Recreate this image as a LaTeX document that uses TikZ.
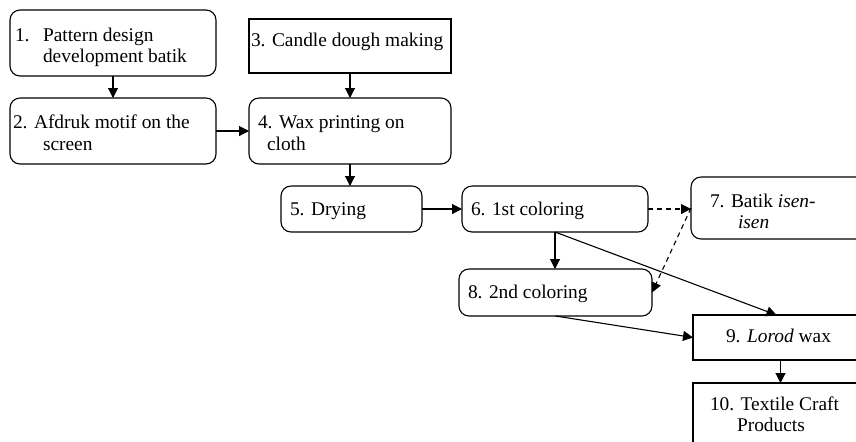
\documentclass[tikz,border=0pt]{standalone}
\usepackage{fontspec}
\setmainfont{Liberation Serif}
\usetikzlibrary{arrows.meta}
\begin{document}
\begin{tikzpicture}[x=0.5pt,y=-0.5pt,
  every node/.style={inner sep=0pt, outer sep=0pt},
  rbox/.style={draw, line width=0.55pt, rounded corners=5pt, anchor=north west},
  sbox/.style={draw, line width=0.55pt, anchor=north west},
  txt/.style={anchor=base west, font=\fontsize{9.7}{11}\selectfont},
  conn/.style={line width=0.55pt, -{Triangle[length=5pt,width=5pt]}},
  dconn/.style={conn, dash pattern=on 2.5pt off 2pt}]
\clip (0,0) rectangle (856,441);
% boxes
\node[rbox, minimum width=103pt, minimum height=33pt] (b1) at (10,10) {};
\node[rbox, minimum width=103pt, minimum height=33pt] (b2) at (10,98) {};
\node[sbox, minimum width=101pt, minimum height=27pt] (b3) at (249,19) {};
\node[rbox, minimum width=101pt, minimum height=33pt] (b4) at (249,98) {};
\node[rbox, minimum width=70.5pt, minimum height=23pt] (b5) at (281,186) {};
\node[rbox, minimum width=93pt, minimum height=23pt] (b6) at (462,186) {};
\node[rbox, minimum width=95pt, minimum height=31pt] (b7) at (691,177) {};
\node[rbox, minimum width=96.5pt, minimum height=23.5pt] (b8) at (459,269) {};
\node[sbox, minimum width=95pt, minimum height=22.5pt] (b9) at (693,315) {};
\node[sbox, minimum width=95pt, minimum height=45pt] (b10) at (693,383) {};
% texts
\node[txt] (t1a) at (15,41) {1.};
\node[txt] (t1b) at (43,41) {Pattern design};
\node[txt] (t1c) at (43,62) {development batik};
\node[txt] (t2a) at (13,128) {2. Afdruk motif on the};
\node[txt] (t2b) at (43,150) {screen};
\node[txt] (t3) at (251,46) {3. Candle dough making};
\node[txt] (t4a) at (258,128) {4. Wax printing on};
\node[txt] (t4b) at (267,150) {cloth};
\node[txt] (t5) at (290,215) {5. Drying};
\node[txt] (t6) at (471,215) {6. 1st coloring};
\node[txt] (t7a) at (710,207) {7. Batik \textit{isen-}};
\node[txt] (t7b) at (738,228) {\textit{isen}};
\node[txt] (t8) at (468,298) {8. 2nd coloring};
\node[txt] (t9) at (726,342) {9. \textit{Lorod} wax};
\node[txt] (t10a) at (710,410) {10. Textile Craft};
\node[txt] (t10b) at (737,431) {Products};
% connectors
\draw[conn] (b1.south) -- (b2.north);
\draw[conn] (b3.south) -- (b4.north);
\draw[conn] (b2.east) -- (b4.west);
\draw[conn] (b4.south) -- (b4.south |- b5.north);
\draw[conn] (b5.east) -- (b6.west);
\draw[conn] (b6.south) -- (b6.south |- b8.north);
\draw[dconn] (b6.east) -- (b6.east -| b7.west);
\draw[dconn] (b7.west) -- (b8.east);
\draw[conn] (b6.south) -- ([xshift=-5.75pt]b9.north);
\draw[conn] (b8.south) -- (b9.west);
\draw[conn] ([xshift=-3.75pt]b9.south) -- ([xshift=-3.75pt]b9.south |- b10.north);
\end{tikzpicture}
\end{document}
